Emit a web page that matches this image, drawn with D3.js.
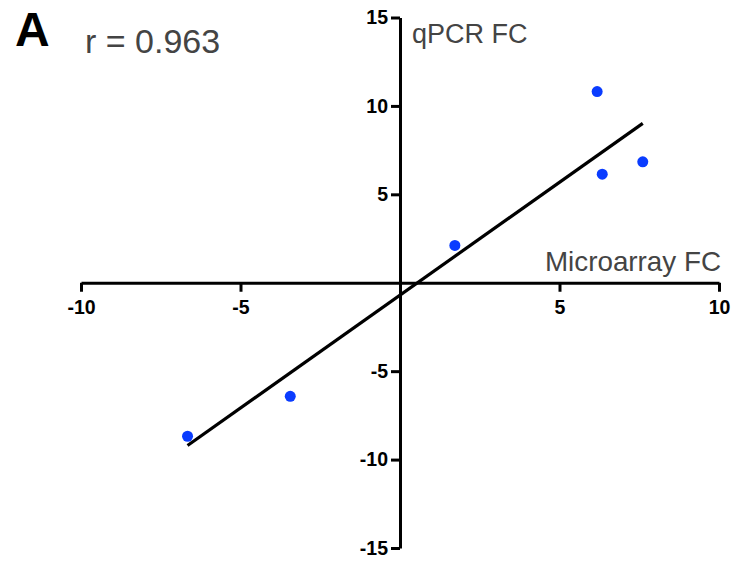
<!DOCTYPE html>
<html>
<head>
<meta charset="utf-8">
<script src="https://cdn.jsdelivr.net/npm/d3@7"></script>
<style>
  body { margin: 0; background: #fff; }
  svg { display: block; font-family: "Liberation Sans", Arial, Helvetica, sans-serif; }
</style>
</head>
<body>
<svg width="734" height="563"></svg>
<script>
// microarray fold change vs qPCR fold change
var microarrayFC = [6.18, 7.61, 6.34, -6.66, -3.44, 1.72];
var qpcrFC = [10.81, 6.84, 6.14, -8.68, -6.42, 2.11];
var xTicks = [-10, -5, 5, 10];
var yTicks = [-15, -10, -5, 5, 10, 15];
var rLabel = "r = 0.963";

var svg = d3.select("svg");

var x = d3.scaleLinear().domain([-10, 10]).range([81, 719]);
var y = d3.scaleLinear().domain([-15, 15]).range([548, 17.5]);

// x axis crosses at y = 0
var xAxis = svg.append("g")
  .attr("transform", `translate(0,${y(0)})`)
  .call(d3.axisBottom(x).tickValues(xTicks).tickSize(9).tickSizeOuter(0).tickPadding(8).tickFormat(d => String(d)));

// y axis crosses at x = 0
var yAxis = svg.append("g")
  .attr("transform", `translate(${x(0)},0)`)
  .call(d3.axisLeft(y).tickValues(yTicks).tickSize(9).tickSizeOuter(0).tickPadding(3).tickFormat(d => String(d)));

[xAxis, yAxis].forEach(g => {
  g.select(".domain").attr("stroke", "#000").attr("stroke-width", 3);
  g.selectAll(".tick line").attr("stroke", "#000").attr("stroke-width", 3);
  g.selectAll(".tick text")
    .attr("fill", "#000")
    .style("font-size", "19.5px")
    .style("font-weight", "bold")
    .style("font-family", "'Liberation Sans', Arial, sans-serif");
});

// least squares fit through the points
var mx = d3.mean(microarrayFC), my = d3.mean(qpcrFC);
var sxy = d3.sum(microarrayFC, (d, i) => (d - mx) * (qpcrFC[i] - my));
var sxx = d3.sum(microarrayFC, d => (d - mx) * (d - mx));
var slope = sxy / sxx, intercept = my - slope * mx;
var fitX = d3.extent(microarrayFC);

svg.append("line")
  .attr("x1", x(fitX[0])).attr("y1", y(slope * fitX[0] + intercept))
  .attr("x2", x(fitX[1])).attr("y2", y(slope * fitX[1] + intercept))
  .attr("stroke", "#000")
  .attr("stroke-width", 3.2);

svg.selectAll("circle")
  .data(microarrayFC)
  .enter()
  .append("circle")
  .attr("cx", d => x(d))
  .attr("cy", (d, i) => y(qpcrFC[i]))
  .attr("r", 5.5)
  .attr("fill", "#0a3cff");

// axis titles
svg.append("text")
  .attr("x", 412).attr("y", 43)
  .attr("fill", "#444")
  .style("font-size", "27px")
  .text("qPCR FC");

svg.append("text")
  .attr("x", 721).attr("y", 271)
  .attr("text-anchor", "end")
  .attr("fill", "#444")
  .style("font-size", "27.8px")
  .text("Microarray FC");

// panel letter and correlation
svg.append("text")
  .attr("x", 15).attr("y", 46)
  .attr("fill", "#000")
  .style("font-size", "48px")
  .style("font-weight", "bold")
  .text("A");

svg.append("text")
  .attr("x", 85).attr("y", 53)
  .attr("fill", "#444")
  .style("font-size", "34px")
  .text(rLabel);
</script>
</body>
</html>
